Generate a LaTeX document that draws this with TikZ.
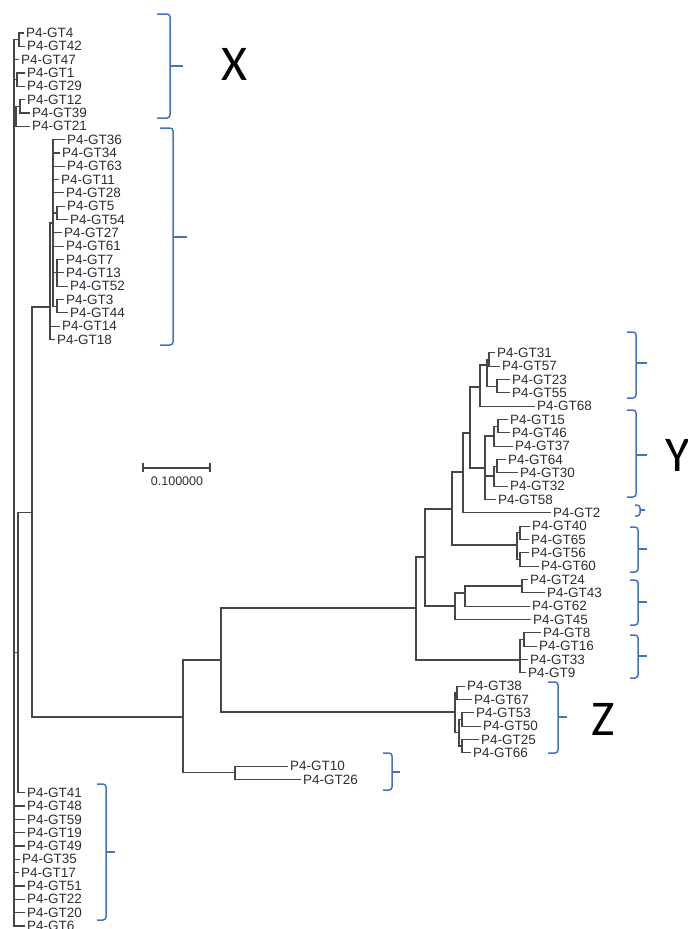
\documentclass[tikz,border=0pt]{standalone}
\usepackage{fontspec}
\setmainfont{Liberation Sans}
\newfontfamily\letterfont{Carlito}
\definecolor{braceblue}{RGB}{68,114,196}
\definecolor{treegray}{RGB}{70,70,70}
\definecolor{labelgray}{RGB}{45,45,55}
\tikzset{
  branch/.style={draw=treegray, line width=1.1pt},
  leaf/.style={anchor=west, inner sep=2pt, text=labelgray, font=\fontsize{13.5}{14}\selectfont},
  grpbrace/.style={draw=braceblue, line width=1.5pt, rounded corners=3pt},
  grpletter/.style={font=\letterfont\fontsize{50}{50}\selectfont, inner sep=0pt}
}
\newcommand{\groupbrace}[6]{%
  \draw[grpbrace] (#1,#3) -| (#2,#4) -- (#1,#4);
  \draw[grpbrace] (#2,#5) -- (#6,#5);
}

\begin{document}
\begin{tikzpicture}[x=1pt,y=-1pt]
\useasboundingbox (0,0) rectangle (688,929);

% leaves, top to bottom
\foreach \g/\x [count=\i from 0] in {4/24,42/25,47/19,1/25,29/25,12/25,39/30,21/30,
  36/65,34/60,63/65,11/59,28/64,5/65,54/68,27/62,61/64,7/64,13/64,52/68,3/64,44/68,14/60,18/55,
  31/495,57/500,23/510,55/510,68/535,15/508,46/510,37/513,64/506,30/518,32/508,58/496,2/551,
  40/530,65/529,56/529,60/539,24/528,43/545,62/530,45/531,8/541,16/537,33/528,9/526,
  38/465,67/472,53/474,50/481,25/479,66/471,10/288,26/301,
  41/25,48/25,59/25,19/25,49/25,35/20,17/19,51/25,22/25,20/25,6/25}{
  \node[leaf] (gt\g) at (\x,{33+13.328*\i}) {P4-GT\g};
}

% inner nodes
\coordinate (root) at (14,480);
\coordinate (a1) at (19,39.6);
\coordinate (a2) at (17,79.7);
\coordinate (a3) at (16,116.3);
\coordinate (a4) at (20,106.3);
\coordinate (b) at (18,652.8);
\coordinate (c) at (32,512.8);
\coordinate (d) at (50,307);
\coordinate (f) at (53,223);
\coordinate (f2) at (57,213);
\coordinate (f3) at (57,272.9);
\coordinate (f4) at (57,306.2);
\coordinate (e) at (183,717);
\coordinate (h) at (221,660);
\coordinate (k) at (416,608);
\coordinate (m) at (425,557);
\coordinate (p) at (452,509);
\coordinate (q) at (463,472);
\coordinate (s) at (470,433);
\coordinate (t) at (480,387);
\coordinate (t1) at (487,365);
\coordinate (t2) at (489,359.5);
\coordinate (t3) at (497,386.2);
\coordinate (u) at (485,468);
\coordinate (u1) at (494,436);
\coordinate (u2) at (494,476);
\coordinate (u3) at (498,426.2);
\coordinate (u4) at (497,466.2);
\coordinate (v) at (517,545);
\coordinate (v1) at (520,532.8);
\coordinate (v2) at (520,559.5);
\coordinate (w) at (455,606);
\coordinate (w1) at (465,593);
\coordinate (w2) at (522,586);
\coordinate (n1) at (520,660);
\coordinate (n2) at (524,639.5);
\coordinate (z0) at (455,712);
\coordinate (z1) at (457,692.8);
\coordinate (z2) at (459,732.7);
\coordinate (z3) at (462,719.4);
\coordinate (z4) at (462,746);
\coordinate (j) at (235,772.7);

% branches
\foreach \p/\c in {root/a1,root/gt47,root/a2,root/a3,root/b,root/gt48,root/gt59,root/gt19,
  root/gt49,root/gt35,root/gt17,root/gt51,root/gt22,root/gt20,root/gt6,
  a1/gt4,a1/gt42,a2/gt1,a2/gt29,a3/a4,a3/gt21,a4/gt12,a4/gt39,
  b/c,b/gt41,c/d,c/e,d/f,d/gt14,d/gt18,
  f/gt36,f/gt34,f/gt63,f/gt11,f/gt28,f/f2,f/gt27,f/gt61,f/f3,f/f4,
  f2/gt5,f2/gt54,f3/gt7,f3/gt13,f3/gt52,f4/gt3,f4/gt44,
  e/h,e/j,h/k,h/z0,k/m,k/n1,m/p,m/w,p/q,p/v,q/s,q/gt2,s/t,s/u,
  t/t1,t/gt68,t1/t2,t1/t3,t2/gt31,t2/gt57,t3/gt23,t3/gt55,
  u/u1,u/u2,u/gt58,u1/u3,u1/gt37,u3/gt15,u3/gt46,u2/u4,u2/gt32,u4/gt64,u4/gt30,
  v/v1,v/v2,v1/gt40,v1/gt65,v2/gt56,v2/gt60,
  w/w1,w/gt45,w1/w2,w1/gt62,w2/gt24,w2/gt43,
  n1/n2,n1/gt33,n1/gt9,n2/gt8,n2/gt16,
  z0/z1,z0/z2,z1/gt38,z1/gt67,z2/z3,z2/z4,z3/gt53,z3/gt50,z4/gt25,z4/gt66,
  j/gt10,j/gt26}{
  \draw[branch] (\p) |- (\c);
}

% scale bar
\coordinate (barL) at (143,468);
\coordinate (barR) at (210,468);
\draw[branch] (barL) -- (barR);
\draw[branch] ([yshift=-4pt]barL) -- ([yshift=5pt]barL);
\draw[branch] ([yshift=-4pt]barR) -- ([yshift=5pt]barR);
\node[text=labelgray, font=\fontsize{12.5}{13}\selectfont, inner sep=0pt] (barlbl) at (177,481) {0.100000};

% group braces
\groupbrace{157}{170}{14}{118}{66}{183}
\groupbrace{160}{173}{128}{345}{237}{187}
\groupbrace{627}{636}{332}{398}{363}{647}
\groupbrace{627}{636}{410}{497}{455}{647}
\groupbrace{635}{640}{505}{516}{510}{645}
\groupbrace{630}{638}{527}{572}{549}{647}
\groupbrace{630}{638}{580}{625}{602}{647}
\groupbrace{630}{638}{635}{678}{656}{647}
\groupbrace{548}{558}{682}{753}{717}{567}
\groupbrace{383}{392}{753}{790}{772}{400}
\groupbrace{97}{106}{784}{920}{852}{115}

\node[grpletter] (lblX) at (234,64) {X};
\node[grpletter] (lblZ) at (603,719) {Z};
\begin{scope}
\clip (0,0) rectangle (688,929);
\node[grpletter, anchor=west] (lblY) at (665,455) {Y};
\end{scope}
\end{tikzpicture}
\end{document}
